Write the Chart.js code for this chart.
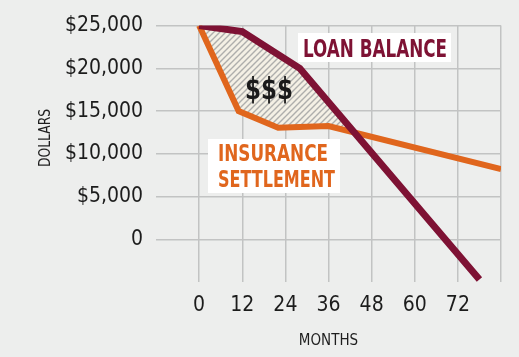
<!DOCTYPE html>
<html><head><meta charset="utf-8">
<script src="https://cdn.jsdelivr.net/npm/chart.js@4.4.0/dist/chart.umd.min.js"></script>
<style>
html,body{margin:0;padding:0;background:#edeeed;}
#wrap{width:519px;height:357px;position:relative;}
</style></head><body>
<div id="wrap"><canvas id="c" width="519" height="357"></canvas></div>
<script>
// ---- data ----
const xTickValues = [-12, 0, 12, 24, 36, 48, 60, 72, 84];
const xTickLabels = ['', '0', '12', '24', '36', '48', '60', '72', ''];
const yTickValues = [-5000, 0, 5000, 10000, 15000, 20000, 25000];
const yTickLabels = ['', '0', '$5,000', '$10,000', '$15,000', '$20,000', '$25,000'];
const loanMonths = [0, 12, 28, 78];
const loanBalance = [25000, 24300, 20000, -4700];
const insuranceMonths = [0, 11, 22, 36, 84];
const insuranceSettlement = [25000, 15000, 13050, 13250, 8200];
const seriesNames = ['LOAN BALANCE', 'INSURANCE SETTLEMENT'];

const FONT = "'DejaVu Sans Condensed', 'Liberation Sans Narrow', sans-serif";
const MAROON = '#7e1234';
const ORANGE = '#e0661d';

const canvas = document.getElementById('c');
const mainCtx = canvas.getContext('2d');

function makeHatch() {
  const s = 6;
  const p = document.createElement('canvas');
  p.width = s; p.height = s;
  const g = p.getContext('2d');
  g.fillStyle = '#f4f0e5';
  g.fillRect(0, 0, s, s);
  g.strokeStyle = '#aeaeac';
  g.lineWidth = 1.4;
  g.beginPath();
  g.moveTo(-1, s + 1); g.lineTo(s + 1, -1);
  g.moveTo(-1, 1); g.lineTo(1, -1);
  g.moveTo(s - 1, s + 1); g.lineTo(s + 1, s - 1);
  g.stroke();
  return mainCtx.createPattern(p, 'repeat');
}

function fitText(ctx, text, left, baseline, width, font, color) {
  ctx.save();
  ctx.font = font;
  ctx.fillStyle = color;
  ctx.textAlign = 'left';
  ctx.textBaseline = 'alphabetic';
  const w = ctx.measureText(text).width;
  ctx.translate(left, baseline);
  ctx.scale(width / w, 1);
  ctx.fillText(text, 0, 0);
  ctx.restore();
}

const annotations = {
  id: 'annotations',
  afterDatasetsDraw(chart) {
    const ctx = chart.ctx;
    ctx.save();
    // LOAN BALANCE label
    ctx.fillStyle = '#ffffff';
    ctx.fillRect(298, 33, 153, 29);
    fitText(ctx, 'LOAN BALANCE', 303, 57, 144, "bold 24px " + FONT, MAROON);
    // INSURANCE SETTLEMENT label
    ctx.fillStyle = '#ffffff';
    ctx.fillRect(208, 139, 132, 54);
    fitText(ctx, 'INSURANCE', 218, 161, 110, "bold 23px " + FONT, ORANGE);
    fitText(ctx, 'SETTLEMENT', 218, 187, 117, "bold 23px " + FONT, ORANGE);
    // $$$
    fitText(ctx, '$$$', 245, 99, 48, "bold 31px " + FONT, '#1a1a1a');
    // DOLLARS axis title
    ctx.save();
    ctx.translate(50, 138);
    ctx.rotate(-Math.PI / 2);
    ctx.font = "16px " + FONT;
    ctx.fillStyle = '#1e1e1e';
    ctx.textAlign = 'center';
    ctx.textBaseline = 'alphabetic';
    const w = ctx.measureText('DOLLARS').width;
    ctx.scale(58 / w, 1);
    ctx.fillText('DOLLARS', 0, 0);
    ctx.restore();
    ctx.restore();
  }
};

const hatch = makeHatch();

new Chart(canvas, {
  type: 'line',
  data: {
    datasets: [
      {
        label: seriesNames[0],
        data: loanMonths.map((m, i) => ({x: m, y: loanBalance[i]})),
        borderColor: MAROON,
        borderWidth: 7,
        pointRadius: 0,
        tension: 0,
        borderJoinStyle: 'miter',
        borderCapStyle: 'butt',
        fill: {target: 1, above: hatch, below: 'rgba(0,0,0,0)'},
        order: 0
      },
      {
        label: seriesNames[1],
        data: insuranceMonths.map((m, i) => ({x: m, y: insuranceSettlement[i]})),
        borderColor: ORANGE,
        borderWidth: 6,
        pointRadius: 0,
        tension: 0,
        borderJoinStyle: 'miter',
        borderCapStyle: 'butt',
        fill: false,
        order: 1
      }
    ]
  },
  options: {
    responsive: false,
    animation: false,
    events: [],
    layout: {padding: {left: 0, right: 18, top: 25, bottom: 0}},
    plugins: {
      legend: {display: false},
      tooltip: {enabled: false},
      filler: {drawTime: 'beforeDatasetsDraw'}
    },
    scales: {
      x: {
        type: 'linear',
        min: -12, max: 84,
        afterBuildTicks(axis) { axis.ticks = xTickValues.map(v => ({value: v})); },
        afterFit(axis) { axis.height = 75; },
        ticks: {
          autoSkip: false,
          maxRotation: 0,
          padding: 11,
          color: '#1c1c1c',
          font: {family: FONT, size: 21},
          callback(v) { const i = xTickValues.indexOf(v); return i >= 0 ? xTickLabels[i] : ''; }
        },
        grid: {
          drawTicks: false,
          lineWidth: 1.5,
          color: (c) => (c.tick && c.tick.value === -12) ? 'rgba(0,0,0,0)' : '#c2c3c3'
        },
        border: {display: false},
        title: {
          display: true, text: 'MONTHS',
          color: '#1e1e1e',
          font: {family: FONT, size: 15},
          padding: {top: 0, bottom: 7}
        }
      },
      y: {
        type: 'linear',
        min: -5000, max: 25000,
        afterBuildTicks(axis) { axis.ticks = yTickValues.map(v => ({value: v})); },
        afterFit(axis) { axis.width = 156; },
        ticks: {
          autoSkip: false,
          padding: 13,
          color: '#1c1c1c',
          font: {family: FONT, size: 21},
          callback(v) { const i = yTickValues.indexOf(v); return i >= 0 ? yTickLabels[i] : ''; }
        },
        grid: {
          drawTicks: false,
          lineWidth: 1.5,
          color: (c) => (c.tick && c.tick.value === -5000) ? 'rgba(0,0,0,0)' : '#c2c3c3'
        },
        border: {display: false}
      }
    }
  },
  plugins: [annotations]
});
</script>
</body></html>
